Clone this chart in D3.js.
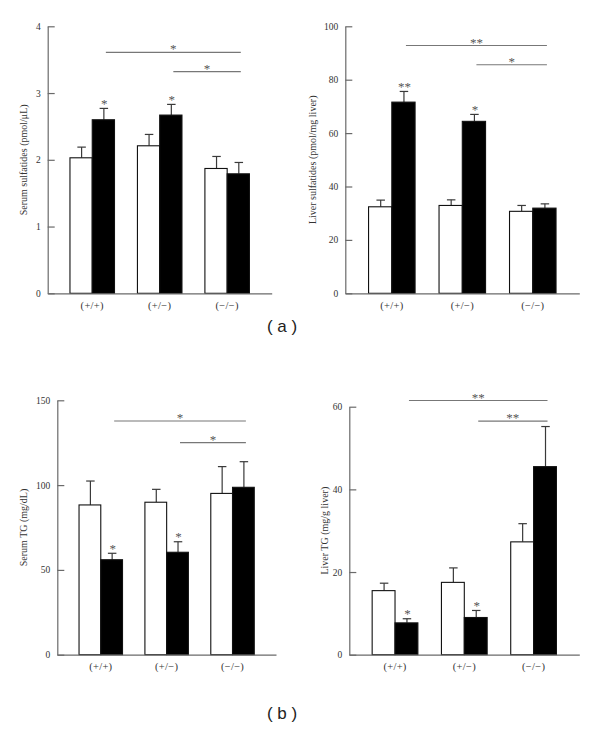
<!DOCTYPE html>
<html>
<head>
<meta charset="utf-8">
<script src="https://cdn.jsdelivr.net/npm/d3@7"></script>
<style>
  html, body { margin: 0; padding: 0; background: #fff; }
  svg { display: block; }
</style>
</head>
<body>
<svg id="chart" width="600" height="729"></svg>
<script>
// ---- data ----
const groups = ["(+/+)", "(+/−)", "(−/−)"];
const series = ["white", "black"];

const serumSulfWhite = [2.03, 2.21, 1.87];
const serumSulfWhiteErr = [0.16, 0.17, 0.18];
const serumSulfBlack = [2.60, 2.67, 1.79];
const serumSulfBlackErr = [0.17, 0.16, 0.17];
const serumSulfStars = ["*", "*", ""];
const serumSulfTicks = [0, 1, 2, 3, 4];

const liverSulfWhite = [32.4, 32.9, 30.7];
const liverSulfWhiteErr = [2.5, 2.1, 2.2];
const liverSulfBlack = [71.6, 64.4, 31.9];
const liverSulfBlackErr = [4.0, 2.6, 1.6];
const liverSulfStars = ["**", "*", ""];
const liverSulfTicks = [0, 20, 40, 60, 80, 100];

const serumTGWhite = [88.3, 89.9, 95.1];
const serumTGWhiteErr = [14.1, 7.6, 15.8];
const serumTGBlack = [56.0, 60.4, 98.7];
const serumTGBlackErr = [3.8, 6.2, 15.1];
const serumTGStars = ["*", "*", ""];
const serumTGTicks = [0, 50, 100, 150];

const liverTGWhite = [15.5, 17.5, 27.3];
const liverTGWhiteErr = [1.8, 3.5, 4.4];
const liverTGBlack = [7.7, 9.0, 45.5];
const liverTGBlackErr = [1.0, 1.7, 9.7];
const liverTGStars = ["*", "*", ""];
const liverTGTicks = [0, 20, 40, 60];

// brackets: [fromGroup, toGroup, label, yValue]
const serumSulfBrackets = [[0, 2, "*", 3.61], [1, 2, "*", 3.32]];
const liverSulfBrackets = [[0, 2, "**", 92.8], [1, 2, "*", 85.6]];
const serumTGBrackets = [[0, 2, "*", 137.8], [1, 2, "*", 125]];
const liverTGBrackets = [[0, 2, "**", 61.5], [1, 2, "**", 56.5]];

const panelLetters = ["( a )", "( b )"];

// ---- layout ----
const panels = [
  { label: "Serum sulfatides (pmol/μL)", white: serumSulfWhite, whiteErr: serumSulfWhiteErr,
    black: serumSulfBlack, blackErr: serumSulfBlackErr, stars: serumSulfStars, ticks: serumSulfTicks,
    brackets: serumSulfBrackets, x0: 47.7, x1: 271.7, yTop: 26.3, yBot: 293.3, labelX: 27 },
  { label: "Liver sulfatides (pmol/mg liver)", white: liverSulfWhite, whiteErr: liverSulfWhiteErr,
    black: liverSulfBlack, blackErr: liverSulfBlackErr, stars: liverSulfStars, ticks: liverSulfTicks,
    brackets: liverSulfBrackets, x0: 345.3, x1: 579.3, yTop: 26.3, yBot: 293.3, labelX: 316 },
  { label: "Serum TG (mg/dL)", white: serumTGWhite, whiteErr: serumTGWhiteErr,
    black: serumTGBlack, blackErr: serumTGBlackErr, stars: serumTGStars, ticks: serumTGTicks,
    brackets: serumTGBrackets, x0: 57.3, x1: 276, yTop: 400.3, yBot: 654.7, labelX: 27 },
  { label: "Liver TG (mg/g liver)", white: liverTGWhite, whiteErr: liverTGWhiteErr,
    black: liverTGBlack, blackErr: liverTGBlackErr, stars: liverTGStars, ticks: liverTGTicks,
    brackets: liverTGBrackets, x0: 349.3, x1: 579.3, yTop: 406.7, yBot: 654.7, labelX: 328 }
];

const svg = d3.select("#chart");
svg.append("rect").attr("width", 600).attr("height", 729).attr("fill", "#fff");

const serif = "'Liberation Serif', 'Times New Roman', serif";
const axisColor = "#6a6a6a";
const textColor = "#333";

panels.forEach(p => {
  const ticks = p.ticks;
  const y = d3.scaleLinear().domain([ticks[0], ticks[ticks.length - 1]]).range([p.yBot, p.yTop]);
  const x = d3.scaleBand().domain(groups).range([p.x0, p.x1]).paddingInner(0.34).paddingOuter(0.33);
  const xs = d3.scaleBand().domain(series).range([0, x.bandwidth()]);

  const g = svg.append("g");

  const rows = groups.map((gr, i) => [
    { g: gr, s: "white", v: p.white[i], e: p.whiteErr[i], star: "" },
    { g: gr, s: "black", v: p.black[i], e: p.blackErr[i], star: p.stars[i] }
  ]).flat();

  // error bars (behind bars)
  const capW = 8.5;
  rows.forEach(r => {
    const cx = x(r.g) + xs(r.s) + xs.bandwidth() / 2 + 0.5;
    g.append("line").attr("x1", cx).attr("x2", cx)
      .attr("y1", y(r.v)).attr("y2", y(r.v + r.e))
      .attr("stroke", "#3a3a3a").attr("stroke-width", 1.2);
    g.append("line").attr("x1", cx - capW / 2).attr("x2", cx + capW / 2)
      .attr("y1", y(r.v + r.e)).attr("y2", y(r.v + r.e))
      .attr("stroke", "#3a3a3a").attr("stroke-width", 1.2);
  });

  g.selectAll("rect.bar").data(rows).join("rect")
    .attr("class", "bar")
    .attr("x", d => x(d.g) + xs(d.s))
    .attr("y", d => y(d.v))
    .attr("width", xs.bandwidth())
    .attr("height", d => y(0) - y(d.v))
    .attr("fill", d => d.s === "white" ? "#fff" : "#000")
    .attr("stroke", "#111")
    .attr("stroke-width", 1.1);

  // stars above bars
  rows.filter(r => r.star).forEach(r => {
    const cx = x(r.g) + xs(r.s) + xs.bandwidth() / 2 + 1;
    g.append("text").attr("x", cx).attr("y", y(r.v + r.e) - 0.5)
      .attr("text-anchor", "middle").attr("font-family", serif).attr("font-size", 13)
      .attr("fill", "#555").text(r.star);
  });

  // brackets
  p.brackets.forEach(b => {
    const xa = x(groups[b[0]]) + xs("black") + xs.bandwidth() / 2 + 2.5;
    const xb = x(groups[b[1]]) + xs("black") + xs.bandwidth() / 2 + 2.5;
    const yy = y(b[3]);
    g.append("line").attr("x1", xa).attr("x2", xb).attr("y1", yy).attr("y2", yy)
      .attr("stroke", "#777").attr("stroke-width", 1.2);
    g.append("text").attr("x", (xa + xb) / 2).attr("y", yy + 1)
      .attr("text-anchor", "middle").attr("font-family", serif).attr("font-size", 13)
      .attr("fill", "#555").text(b[2]);
  });

  // y axis
  const ya = g.append("g").attr("transform", `translate(${p.x0},0)`)
    .call(d3.axisLeft(y).tickValues(ticks).tickFormat(d3.format("d"))
      .tickSizeInner(-7).tickSizeOuter(0).tickPadding(7));
  ya.select(".domain").attr("stroke", axisColor).attr("stroke-width", 1.2);
  ya.selectAll(".tick line").attr("stroke", axisColor).attr("stroke-width", 1.2);
  ya.selectAll(".tick text").attr("font-family", serif).attr("font-size", 9.5).attr("fill", textColor);

  // x axis
  const xa = g.append("g").attr("transform", `translate(0,${p.yBot})`)
    .call(d3.axisBottom(x).tickSize(0).tickPadding(8));
  xa.select(".domain").attr("stroke", axisColor).attr("stroke-width", 1.2);
  xa.selectAll(".tick text").attr("font-family", serif).attr("font-size", 10.5).attr("fill", textColor)
    .attr("letter-spacing", 0.3);

  // y label
  const cy = (p.yTop + p.yBot) / 2;
  g.append("text").attr("transform", `translate(${p.labelX},${cy}) rotate(-90)`)
    .attr("text-anchor", "middle").attr("font-family", serif).attr("font-size", 10)
    .attr("fill", textColor).text(p.label);
});

// panel letters
svg.selectAll("text.panel").data(panelLetters).join("text")
  .attr("class", "panel")
  .attr("x", 282)
  .attr("y", (d, i) => i === 0 ? 332 : 719)
  .attr("text-anchor", "middle")
  .attr("font-family", "'Liberation Sans', Arial, sans-serif")
  .attr("font-size", 17)
  .attr("fill", "#222")
  .attr("xml:space", "preserve")
  .style("white-space", "pre")
  .text(d => d);
</script>
</body>
</html>
